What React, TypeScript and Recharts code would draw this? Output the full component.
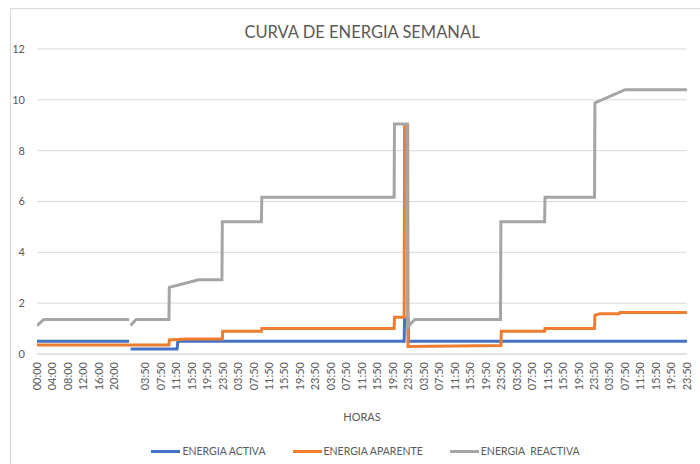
import { LineChart, Line, XAxis, YAxis, CartesianGrid, Legend } from "recharts";

// category labels along the x axis, one every 4 hours (slot 6 has no label)
const tickLabels = [
  "00:00", "04:00", "08:00", "12:00", "16:00", "20:00", "",
  "03:50", "07:50", "11:50", "15:50", "19:50", "23:50",
  "03:50", "07:50", "11:50", "15:50", "19:50", "23:50",
  "03:50", "07:50", "11:50", "15:50", "19:50", "23:50",
  "03:50", "07:50", "11:50", "15:50", "19:50", "23:50",
  "03:50", "07:50", "11:50", "15:50", "19:50", "23:50",
  "03:50", "07:50", "11:50", "15:50", "19:50", "23:50",
];
const hourTicks = tickLabels.map((_, i) => i * 4);
const yTicks = [0, 2, 4, 6, 8, 10, 12];

// h = hours from the start of the week, v = energy
const energiaActiva = [
  { h: 0, v: 0.5 }, { h: 23.8, v: 0.5 }, { h: 24, v: null },
  { h: 24.2, v: 0.2 }, { h: 36.2, v: 0.2 }, { h: 36.4, v: 0.5 },
  { h: 94.9, v: 0.5 }, { h: 95.0, v: 1.4 }, { h: 95.9, v: 1.4 }, { h: 96.0, v: 0.5 },
  { h: 168, v: 0.5 },
];

const energiaAparente = [
  { h: 0, v: 0.35 }, { h: 34.1, v: 0.35 }, { h: 34.2, v: 0.55 }, { h: 38.5, v: 0.59 },
  { h: 47.9, v: 0.59 }, { h: 48.0, v: 0.9 }, { h: 58.0, v: 0.9 }, { h: 58.1, v: 1.0 },
  { h: 92.3, v: 1.0 }, { h: 92.4, v: 1.45 }, { h: 94.9, v: 1.45 }, { h: 95.0, v: 9.0 },
  { h: 95.8, v: 9.0 }, { h: 95.9, v: 0.3 }, { h: 119.9, v: 0.33 }, { h: 120.0, v: 0.9 },
  { h: 131.2, v: 0.9 }, { h: 131.3, v: 1.0 }, { h: 144.1, v: 1.0 }, { h: 144.2, v: 1.53 },
  { h: 145.5, v: 1.58 }, { h: 150.5, v: 1.58 }, { h: 150.7, v: 1.63 }, { h: 168, v: 1.63 },
];

const energiaReactiva = [
  { h: 0, v: 1.12 }, { h: 1.8, v: 1.36 }, { h: 23.8, v: 1.36 }, { h: 24, v: null },
  { h: 24.2, v: 1.12 }, { h: 25.6, v: 1.36 }, { h: 34.1, v: 1.36 }, { h: 34.2, v: 2.62 },
  { h: 41.8, v: 2.92 }, { h: 47.8, v: 2.92 }, { h: 47.9, v: 5.2 }, { h: 58.0, v: 5.2 },
  { h: 58.1, v: 6.17 }, { h: 92.3, v: 6.17 }, { h: 92.4, v: 9.05 }, { h: 95.7, v: 9.05 },
  { h: 95.8, v: 1.05 }, { h: 97.6, v: 1.36 }, { h: 119.8, v: 1.36 }, { h: 119.9, v: 5.2 },
  { h: 131.2, v: 5.2 }, { h: 131.3, v: 6.17 }, { h: 144.1, v: 6.17 }, { h: 144.2, v: 9.88 },
  { h: 152, v: 10.4 }, { h: 168, v: 10.4 },
];

const series = [
  { name: "ENERGIA ACTIVA", color: "#4472C4", data: energiaActiva },
  { name: "ENERGIA APARENTE", color: "#ED7D31", data: energiaAparente },
  { name: "ENERGIA  REACTIVA", color: "#A5A5A5", data: energiaReactiva },
];

const FONT = "Lato, 'Open Sans', sans-serif";
const TEXT = "#595959";

function HourTick({ x, y, payload }: any) {
  const label = tickLabels[Math.round(payload.value / 4)];
  return (
    <text x={x} y={y} dy="0.35em" textAnchor="end" transform={`rotate(-90, ${x}, ${y})`}
      fill={TEXT} fontSize={11} fontFamily={FONT}>
      {label}
    </text>
  );
}

// legend keeps the series order (Excel style)
function LegendBox() {
  return (
    <div style={{ height: 40, boxSizing: "border-box", paddingTop: 20, paddingLeft: 44,
      display: "flex", justifyContent: "center", gap: 27, fontSize: 10.5, color: TEXT, fontFamily: FONT }}>
      {series.map((s) => (
        <div key={s.name} style={{ display: "flex", alignItems: "center", height: 14 }}>
          <span style={{ display: "inline-block", width: 29, height: 3, background: s.color, marginRight: 2 }} />
          <span style={{ whiteSpace: "pre" }}>{s.name}</span>
        </div>
      ))}
    </div>
  );
}

export default function App() {
  return (
    <div style={{ position: "absolute", left: 0, top: 0, width: 700, height: 464, overflow: "hidden",
      background: "#fff", fontFamily: FONT }}>
      <div style={{ position: "absolute", left: 10, top: 8, width: 720, height: 480, border: "1px solid #d9d9d9" }} />
      <div style={{ position: "absolute", left: 0, top: 22, width: 724, textAlign: "center",
        fontSize: 16.5, lineHeight: "20px", color: TEXT }}>
        CURVA DE ENERGIA SEMANAL
      </div>
      <LineChart width={700} height={464} margin={{ top: 49, right: 13, bottom: 0, left: 0 }}
        style={{ position: "absolute", left: 0, top: 0 }}>
        <CartesianGrid horizontal vertical={false} stroke="#d9d9d9" />
        <XAxis type="number" dataKey="h" domain={[0, 168]} ticks={hourTicks} interval={0}
          height={70} tickSize={0} tickMargin={8} tickLine={false} axisLine={{ stroke: "#d9d9d9" }}
          tick={<HourTick />} allowDataOverflow
          label={{ value: "HORAS", position: "insideBottom", offset: 3, fill: TEXT, fontSize: 11, fontFamily: FONT }} />
        <YAxis type="number" domain={[0, 12]} ticks={yTicks} width={37} tickSize={0} tickMargin={12}
          tickLine={false} axisLine={false} tick={{ fill: TEXT, fontSize: 11, fontFamily: FONT }} />
        <Legend verticalAlign="bottom" align="center" content={<LegendBox />} />
        {series.map((s) => (
          <Line key={s.name} name={s.name} data={s.data} dataKey="v" type="linear" stroke={s.color}
            strokeWidth={3} dot={false} activeDot={false} isAnimationActive={false} />
        ))}
      </LineChart>
    </div>
  );
}
